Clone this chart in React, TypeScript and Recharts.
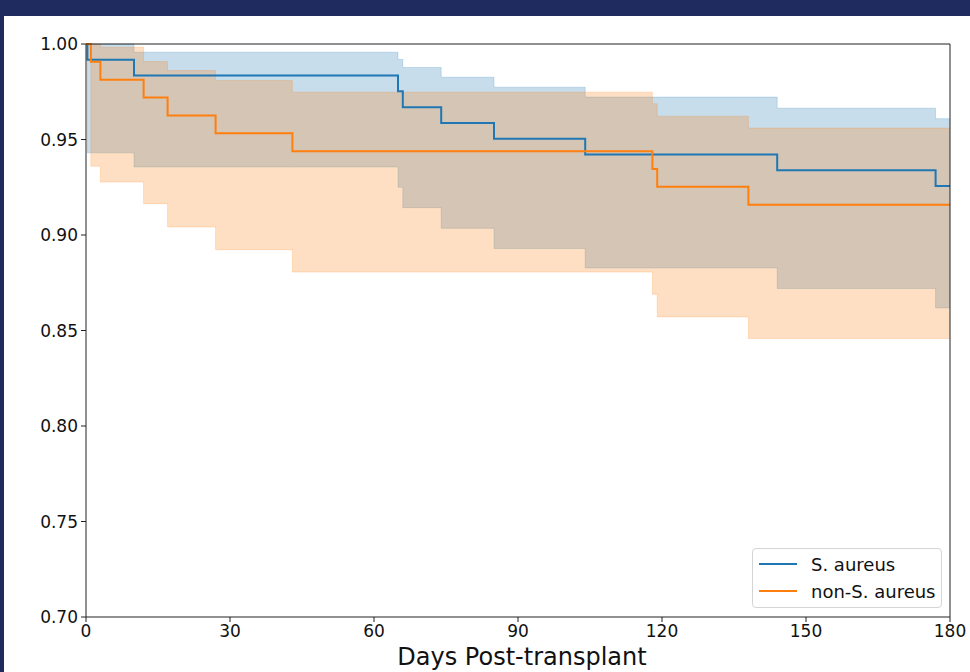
import { ComposedChart, Line, Area, XAxis, YAxis, ReferenceLine } from 'recharts';

// Kaplan-Meier estimates with 95% CI
const saDays = [0, 0.3, 10, 65, 66, 74, 85, 104, 144, 177, 180];
const saSurv = [1, 0.9917, 0.9835, 0.9752, 0.9669, 0.9587, 0.9504, 0.9421, 0.9339, 0.9256, 0.9256];
const saUpper = [1, 1, 0.9957, 0.9919, 0.9877, 0.9826, 0.9774, 0.9722, 0.9664, 0.9609, 0.9609];
const saLower = [1, 0.943, 0.9356, 0.925, 0.9143, 0.9035, 0.8929, 0.8827, 0.872, 0.8618, 0.8618];

const nsDays = [0, 1, 3, 12, 17, 27, 43, 118, 119, 138, 180];
const nsSurv = [1, 0.9907, 0.9813, 0.972, 0.9626, 0.9533, 0.9439, 0.9346, 0.9252, 0.9159, 0.9159];
const nsUpper = [1, 1, 0.9983, 0.9908, 0.9861, 0.9809, 0.9748, 0.9687, 0.9622, 0.956, 0.956];
const nsLower = [1, 0.936, 0.9277, 0.9164, 0.9042, 0.8923, 0.8806, 0.869, 0.8571, 0.8458, 0.8458];

const xTicks = [0, 30, 60, 90, 120, 150, 180];
const yTicks = [0.7, 0.75, 0.8, 0.85, 0.9, 0.95, 1.0];

const series = [
  { name: 'S. aureus', color: '#1f77b4' },
  { name: 'non-S. aureus', color: '#ff7f0e' },
];

// value of a step function at day d
function stepAt(days: number[], vals: number[], d: number) {
  let v = vals[0];
  for (let i = 0; i < days.length; i++) {
    if (days[i] <= d) v = vals[i];
  }
  return v;
}

const allDays = Array.from(new Set([...saDays, ...nsDays])).sort((a, b) => a - b);
const data = allDays.map((d) => ({
  day: d,
  sa: stepAt(saDays, saSurv, d),
  saCi: [stepAt(saDays, saLower, d), stepAt(saDays, saUpper, d)],
  ns: stepAt(nsDays, nsSurv, d),
  nsCi: [stepAt(nsDays, nsLower, d), stepAt(nsDays, nsUpper, d)],
}));

const font = '"DejaVu Sans", sans-serif';
const axisColor = '#222';

export default function App() {
  return (
    <div style={{ position: 'fixed', left: 0, top: 0, width: 970, height: 672, background: '#1f2a5f' }}>
      <div style={{ position: 'absolute', left: 4, top: 16, width: 966, height: 656, background: '#fff', overflow: 'hidden' }}>
        <ComposedChart
          width={966}
          height={656}
          data={data}
          margin={{ top: 28, right: 20, bottom: 0, left: 0 }}
          style={{ fontFamily: font }}
        >
          <XAxis
            dataKey="day"
            type="number"
            domain={[0, 180]}
            ticks={xTicks}
            height={55}
            tickSize={5}
            tickMargin={3}
            stroke={axisColor}
            tick={{ fill: '#111', fontSize: 17, fontFamily: font }}
            label={{ value: 'Days Post-transplant', position: 'insideBottom', offset: 7, dx: 4, fill: '#111', fontSize: 24, fontFamily: font }}
          />
          <YAxis
            type="number"
            domain={[0.7, 1]}
            ticks={yTicks}
            width={82}
            tickSize={5}
            tickMargin={3}
            stroke={axisColor}
            tickFormatter={(v: number) => v.toFixed(2)}
            tick={{ fill: '#111', fontSize: 17, fontFamily: font }}
          />
          <Area
            dataKey="saCi"
            type="stepAfter"
            fill={series[0].color}
            fillOpacity={0.25}
            stroke={series[0].color}
            strokeOpacity={0.2}
            strokeWidth={1}
            isAnimationActive={false}
          />
          <Area
            dataKey="nsCi"
            type="stepAfter"
            fill={series[1].color}
            fillOpacity={0.25}
            stroke={series[1].color}
            strokeOpacity={0.2}
            strokeWidth={1}
            isAnimationActive={false}
          />
          <Line dataKey="sa" type="stepAfter" stroke={series[0].color} strokeWidth={2} dot={false} isAnimationActive={false} />
          <Line dataKey="ns" type="stepAfter" stroke={series[1].color} strokeWidth={2} dot={false} isAnimationActive={false} />
          {/* top and right spines */}
          <ReferenceLine y={1} stroke={axisColor} strokeWidth={1} />
          <ReferenceLine x={180} stroke={axisColor} strokeWidth={1} />
        </ComposedChart>
        <div
          style={{
            position: 'absolute',
            left: 748,
            top: 532,
            width: 188,
            height: 58,
            border: '1px solid #d4d4d4',
            borderRadius: 4,
            background: 'rgba(255,255,255,0.8)',
            fontFamily: font,
            fontSize: 18,
            color: '#111',
          }}
        >
          {series.map((s, i) => (
            <div key={s.name} style={{ position: 'absolute', left: 6, top: 3 + i * 27, height: 24, display: 'flex', alignItems: 'center' }}>
              <span style={{ display: 'inline-block', width: 38, height: 2, background: s.color, marginRight: 14 }} />
              <span>{s.name}</span>
            </div>
          ))}
        </div>
      </div>
    </div>
  );
}
